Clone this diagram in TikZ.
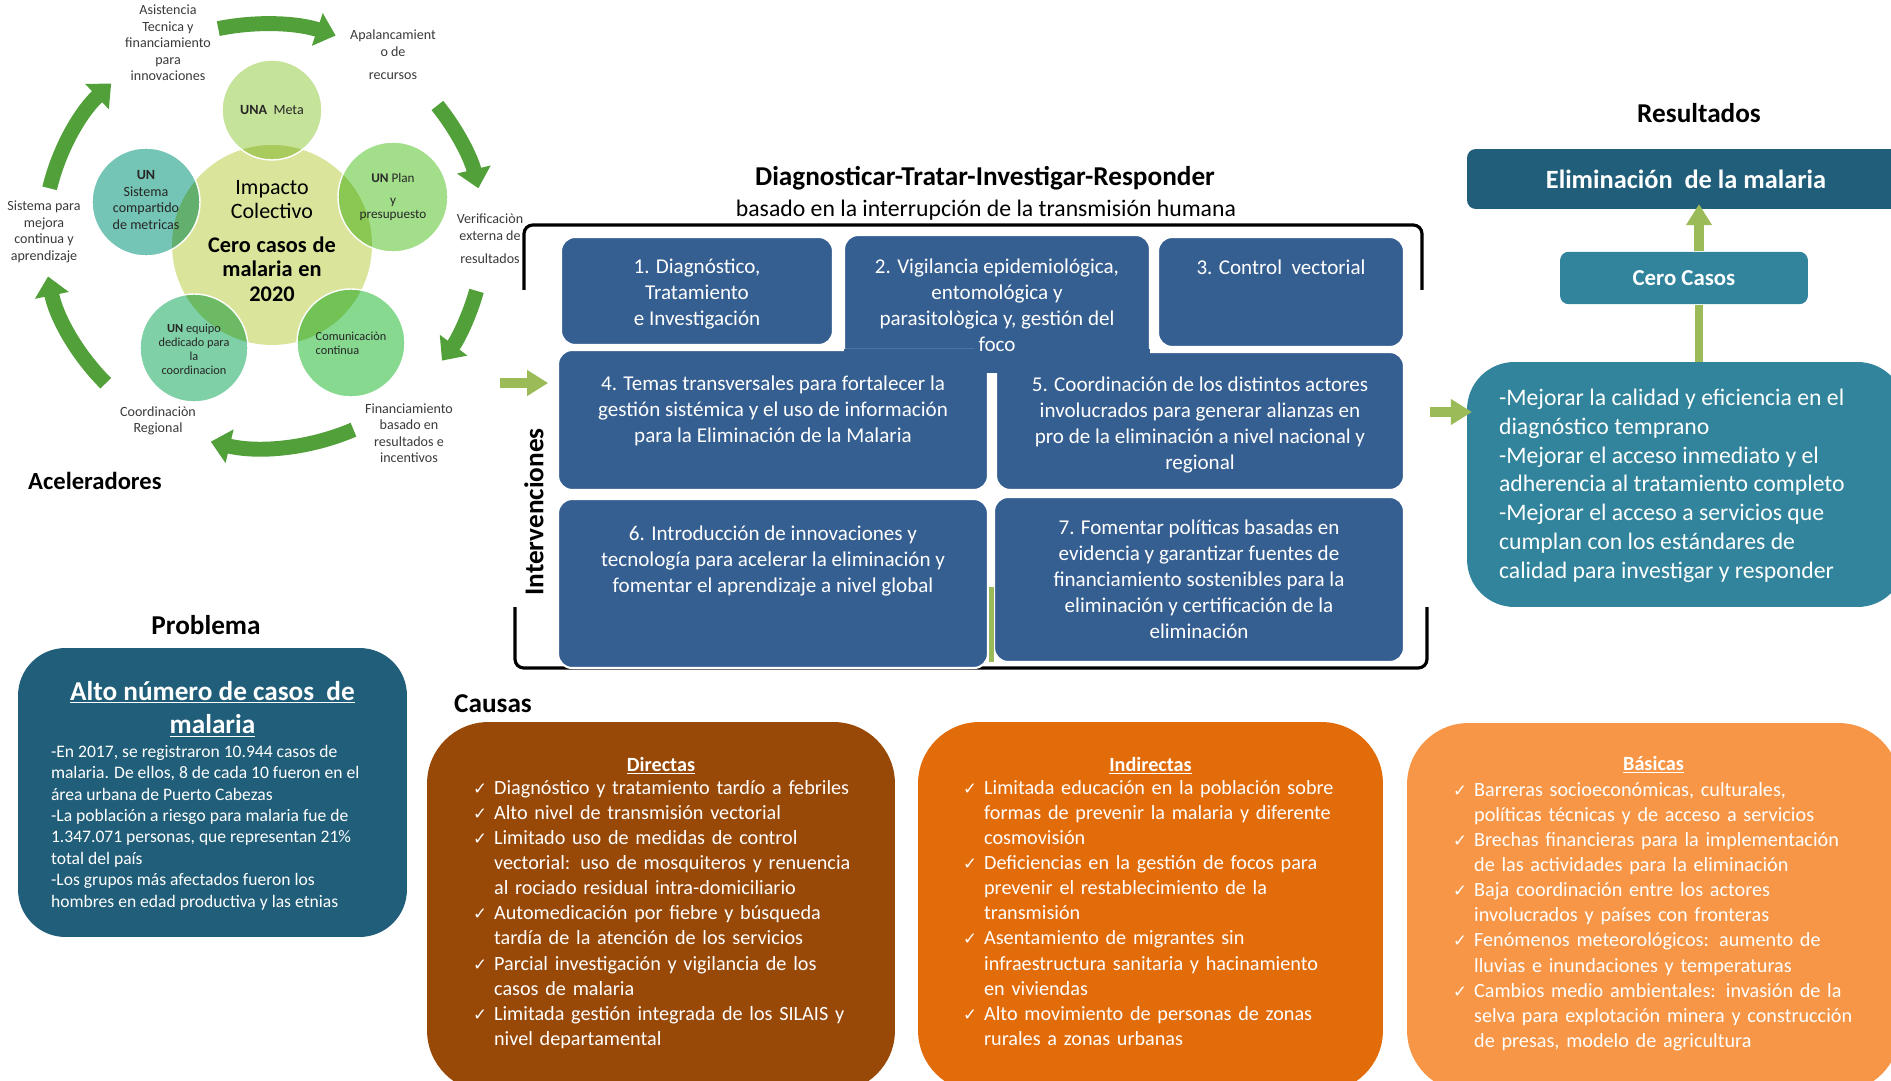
\documentclass[tikz,border=0pt]{standalone}
\usepackage{fontspec}
\setmainfont{Carlito}
\newfontfamily\ckfont{DejaVu Sans}
\usetikzlibrary{arrows.meta,positioning,calc}

\definecolor{ivblue}{HTML}{365F91}
\definecolor{darkteal}{HTML}{215E79}
\definecolor{midteal}{HTML}{31849B}
\definecolor{lightgreen}{HTML}{9BBB59}
\definecolor{ringgreen}{HTML}{52A03A}
\definecolor{dirbrown}{HTML}{984807}
\definecolor{indorange}{HTML}{E36C0A}
\definecolor{basorange}{HTML}{F79646}
\definecolor{cimp}{HTML}{DAE59B}
\definecolor{cmeta}{HTML}{C6E39A}
\definecolor{cplan}{HTML}{A3DE8A}
\definecolor{ccom}{HTML}{86D98F}
\definecolor{cequipo}{HTML}{7FD0A6}
\definecolor{csist}{HTML}{74C5B5}
\definecolor{labelgray}{HTML}{3A3A3A}

\newcommand{\fsz}[2]{\fontsize{#1}{#2}\selectfont}
\newcommand{\ckitem}[1]{\par\noindent\hangindent=12pt\hangafter=1\makebox[12pt][l]{\ckfont\fsz{9.5}{9.5}✓}#1}

\tikzset{
  bubble/.style={circle, inner sep=0pt},
  bubtext/.style={text=black!85, align=center, font=\fsz{8}{9.5}},
  ringlabel/.style={text=labelgray, align=center, font=\fsz{8}{9.4}},
  ringarrow/.style={draw=ringgreen, line width=8.5pt, -{Triangle[width=19pt,length=11pt]}},
  heading/.style={font=\bfseries\fsz{15.5}{18}},
  ivbox/.style={draw=white, line width=1.2pt, fill=ivblue, rounded corners=8pt},
  ivtext/.style={text=white, align=center, font=\fsz{12}{14.8}, inner sep=0pt},
  greenarrow/.style={draw=lightgreen, line width=5.5pt, -{Triangle[width=14pt,length=12pt]}},
  bracket/.style={line width=1.8pt, rounded corners=5pt},
  resbox/.style={fill=#1, rounded corners=5pt, text=white},
  bigbox/.style={fill=#1, rounded corners=27pt},
  causebox/.style={fill=#1, rounded corners=35pt},
  causetitle/.style={text=white, font=\bfseries\fsz{11.5}{14}, inner sep=0pt},
  causetext/.style={text=white, align=left, text width=8.6cm, inner sep=0pt, font=\fsz{11.5}{14.3}},
}

\begin{document}
\begin{tikzpicture}[x=0.02cm, y=-0.02cm]
\useasboundingbox (0,0) rectangle (1891,1081);

% aceleradores
\begin{scope}[blend mode=multiply]
  \node (imp) [bubble, fill=cimp, minimum size=4cm] at (272,245) {};
  \node (meta) [bubble, fill=cmeta, minimum size=2cm] at (272,110) {};
  \node (plan) [bubble, fill=cplan, minimum size=2.2cm] at (393,197) {};
  \node (com) [bubble, fill=ccom, minimum size=2.16cm] at (351,343) {};
  \node (equipo) [bubble, fill=cequipo, minimum size=2.16cm] at (194,348) {};
  \node (sist) [bubble, fill=csist, minimum size=2.16cm] at (146,202) {};
\end{scope}
\foreach \c/\r in {meta/50,plan/55,com/54,equipo/54,sist/54}
  \draw[white, line width=0.8pt] (\c) circle[radius=\r];

\node (impt) [text width=3.4cm, align=center, inner sep=0pt] at (272,241)
  {{\fsz{12.5}{13.8}Impacto\\Colectivo\par}\vspace{5pt}{\bfseries\fsz{12.7}{14.2}Cero casos de\\malaria en\\2020\par}};
\node (metat) [bubtext] at (meta) {\textbf{UNA}\ \ Meta};
\node (plant) [bubtext, font=\fsz{7.5}{9}] at (393,197) {\textbf{UN} Plan\\[3.5pt]y\\[-1.5pt]presupuesto};
\node (sistt) [bubtext] at (146,200) {\textbf{UN}\\Sistema\\compartido\\de metricas};
\node (comt) [bubtext, align=left, font=\fsz{7}{8}] at (351,343) {Comunicaciòn\\continua};
\node (equipot) [bubtext, font=\fsz{7}{8}] at (194,349) {\textbf{UN} equipo\\dedicado para\\la\\coordinacion};

\coordinate (ringc) at (264,236);
\foreach \a/\b in {258/289, 322/347, 15/36, 66/104, 136/169, 193/226}
  \draw[ringarrow] ($(ringc)+(\a:220 and 212)$) arc[start angle=\a, end angle=\b, x radius=220, y radius=212];

\node (lasist) [ringlabel] at (168,43) {Asistencia\\Tecnica y\\financiamiento\\para\\innovaciones};
\node (lapal) [ringlabel] at (393,55) {Apalancamient\\o de\\[4pt]recursos};
\node (lverif) [ringlabel] at (490,239) {Verificaciòn\\externa de\\[4pt]resultados};
\node (lfin) [ringlabel] at (409,433) {Financiamiento\\basado en\\resultados e\\incentivos};
\node (lcoord) [ringlabel] at (158,421) {Coordinaciòn\\Regional};
\node (lsist) [ringlabel] at (44,232) {Sistema para\\mejora\\continua y\\aprendizaje};
\node (acel) [anchor=west, font=\bfseries\fsz{14}{16}] at (22,481) {Aceleradores};

% intervenciones
\node (dtir) [heading] at (985,178) {Diagnosticar-Tratar-Investigar-Responder};
\node (dtirsub) [font=\fsz{13.5}{16}] at (986,210) {basado en la interrupción de la transmisión humana};
\draw[bracket] (524,290) -- (524,225) -- (1422,225) -- (1422,290);
\draw[bracket] (515,607) -- (515,668) -- (1427,668) -- (1427,607);

\node (b1) [ivbox, minimum width=5.44cm, minimum height=2.16cm] at (697,291) {};
\node (b2) [ivbox, minimum width=6.12cm, minimum height=2.74cm] at (997,303.5) {};
\node (b3) [ivbox, minimum width=4.92cm, minimum height=2.2cm] at (1281,292) {};
\node (b4) [ivbox, minimum width=8.6cm, minimum height=2.8cm] at (773,420) {};
\node (b5) [ivbox, minimum width=8.16cm, minimum height=2.76cm] at (1200,421) {};
\node (b6) [ivbox, minimum width=8.6cm, minimum height=3.38cm] at (773,583.5) {};
\node (b7) [ivbox, minimum width=8.2cm, minimum height=3.3cm] at (1199,579.5) {};
\fill[ivblue] ($(b2.south west)+(1,-24)$) rectangle ($(b2.south east)+(-1,0)$);
\fill[lightgreen] (989,587) rectangle (994,662);

\node (t1) [ivtext] at ([yshift=-2pt]b1) {1. Diagnóstico,\\Tratamiento\\e Investigación};
\node (t2) [ivtext, anchor=north] at ([yshift=-14pt]b2.north) {2. Vigilancia epidemiológica,\\entomológica y\\parasitològica y, gestión del\\foco};
\node (t3) [ivtext, anchor=north] at ([yshift=-13.5pt]b3.north) {3. Control\ \ vectorial};
\node (t4) [ivtext, anchor=north] at ([yshift=-15pt]b4.north) {4. Temas transversales para fortalecer la\\gestión sistémica y el uso de información\\para la Eliminación de la Malaria};
\node (t5) [ivtext, anchor=north] at ([yshift=-14.5pt]b5.north) {5. Coordinación de los distintos actores\\involucrados para generar alianzas en\\pro de la eliminación a nivel nacional y\\regional};
\node (t6) [ivtext, anchor=north] at ([yshift=-15.5pt]b6.north) {6. Introducción de innovaciones y\\tecnología para acelerar la eliminación y\\fomentar el aprendizaje a nivel global};
\node (t7) [ivtext, anchor=north] at ([yshift=-13.5pt]b7.north) {7. Fomentar políticas basadas en\\evidencia y garantizar fuentes de\\financiamiento sostenibles para la\\eliminación y certificación de la\\eliminación};
\node (interv) [rotate=90, font=\bfseries\fsz{15.5}{18}] at (534,512) {Intervenciones};

\coordinate (inl) at (500,383);
\draw[greenarrow, shorten >=5pt] (inl) -- (inl -| b4.west);

% resultados
\node (resh) [heading] at (1699,113) {Resultados};
\node (elim) [resbox=darkteal, minimum width=8.76cm, minimum height=1.2cm, font=\bfseries\fsz{15}{18}] at (1686,179) {Eliminación\ \ de la malaria};
\node (cero) [resbox=midteal, minimum width=4.96cm, minimum height=1.05cm, font=\bfseries\fsz{13}{15}] at (1684,278) {Cero Casos};
\node (res) [bigbox=midteal, minimum width=8.76cm, minimum height=4.9cm] at (1686,484.5) {};
\node (restext) [anchor=north west, text=white, align=left, font=\fsz{13.5}{16.4}, inner sep=0pt] at ($(res.north west)+(32,27)$)
  {-Mejorar la calidad y eficiencia en el\\diagnóstico temprano\\-Mejorar el acceso inmediato y el\\adherencia al tratamiento completo\\-Mejorar el acceso a servicios que\\cumplan con los estándares de\\calidad para investigar y responder};

\coordinate (upx) at (1699,0);
\draw[draw=lightgreen, line width=5pt] (res.north -| upx) -- (cero.south -| upx);
\draw[greenarrow, shorten >=-3pt] (cero.north -| upx) -- (elim.south -| upx);
\coordinate (outr) at (1430,412);
\draw[greenarrow, shorten >=-3pt] (outr) -- (outr -| res.west);

% problema
\node (probh) [heading] at (206,625) {Problema};
\node (prob) [bigbox=darkteal, minimum width=7.78cm, minimum height=5.78cm] at (212.5,792.5) {};
\node (probt) [anchor=north, text=white, align=center, font=\bfseries\fsz{15.5}{19}, inner sep=0pt] at ($(prob.north)+(0,33)$)
  {\underline{Alto número de casos\ \ de}\\\underline{malaria}};
\node (probb) [anchor=north west, text=white, align=left, font=\fsz{10}{12.2}, inner sep=0pt] at ($(prob.north west)+(33,97)$)
  {-En 2017, se registraron 10.944 casos de\\malaria. De ellos, 8 de cada 10 fueron en el\\área urbana de Puerto Cabezas\\-La población a riesgo para malaria fue de\\1.347.071 personas, que representan 21\%\\total del país\\-Los grupos más afectados fueron los\\hombres en edad productiva y las etnias};

% causas
\node (caush) [heading] at (493,704) {Causas};
\node (dir) [causebox=dirbrown, minimum width=9.36cm, minimum height=7.4cm] at (661,907) {};
\node (ind) [causebox=indorange, minimum width=9.3cm, minimum height=7.4cm] at (1150.5,907) {};
\node (bas) [causebox=basorange, minimum width=9.86cm, minimum height=7.38cm] at (1653.5,907.5) {};

\node (dirh) [causetitle, anchor=north] at ($(dir.north)+(0,35)$) {\underline{Directas}};
\node (indh) [causetitle, anchor=north] at ($(ind.north)+(0,35)$) {\underline{Indirectas}};
\node (bash) [causetitle, anchor=north] at ($(bas.north)+(0,33)$) {\underline{Básicas}};

\node (dirl) [causetext, anchor=north west] at ($(dir.north west)+(46,47)$) {%
  \ckitem{Diagnóstico y tratamiento tardío a febriles}
  \ckitem{Alto nivel de transmisión vectorial}
  \ckitem{Limitado uso de medidas de control\newline vectorial: uso de mosquiteros y renuencia\newline al rociado residual intra-domiciliario}
  \ckitem{Automedicación por fiebre y búsqueda\newline tardía de la atención de los servicios}
  \ckitem{Parcial investigación y vigilancia de los\newline casos de malaria}
  \ckitem{Limitada gestión integrada de los SILAIS y\newline nivel departamental}\par};
\node (indl) [causetext, anchor=north west] at ($(ind.north west)+(45,47)$) {%
  \ckitem{Limitada educación en la población sobre\newline formas de prevenir la malaria y diferente\newline cosmovisión}
  \ckitem{Deficiencias en la gestión de focos para\newline prevenir el restablecimiento de la\newline transmisión}
  \ckitem{Asentamiento de migrantes sin\newline infraestructura sanitaria y hacinamiento\newline en viviendas}
  \ckitem{Alto movimiento de personas de zonas\newline rurales a zonas urbanas}\par};
\node (basl) [causetext, anchor=north west] at ($(bas.north west)+(46,48)$) {%
  \ckitem{Barreras socioeconómicas, culturales,\newline políticas técnicas y de acceso a servicios}
  \ckitem{Brechas financieras para la implementación\newline de las actividades para la eliminación}
  \ckitem{Baja coordinación entre los actores\newline involucrados y países con fronteras}
  \ckitem{Fenómenos meteorológicos: aumento de\newline lluvias e inundaciones y temperaturas}
  \ckitem{Cambios medio ambientales: invasión de la\newline selva para explotación minera y construcción\newline de presas, modelo de agricultura}\par};
\end{tikzpicture}
\end{document}
